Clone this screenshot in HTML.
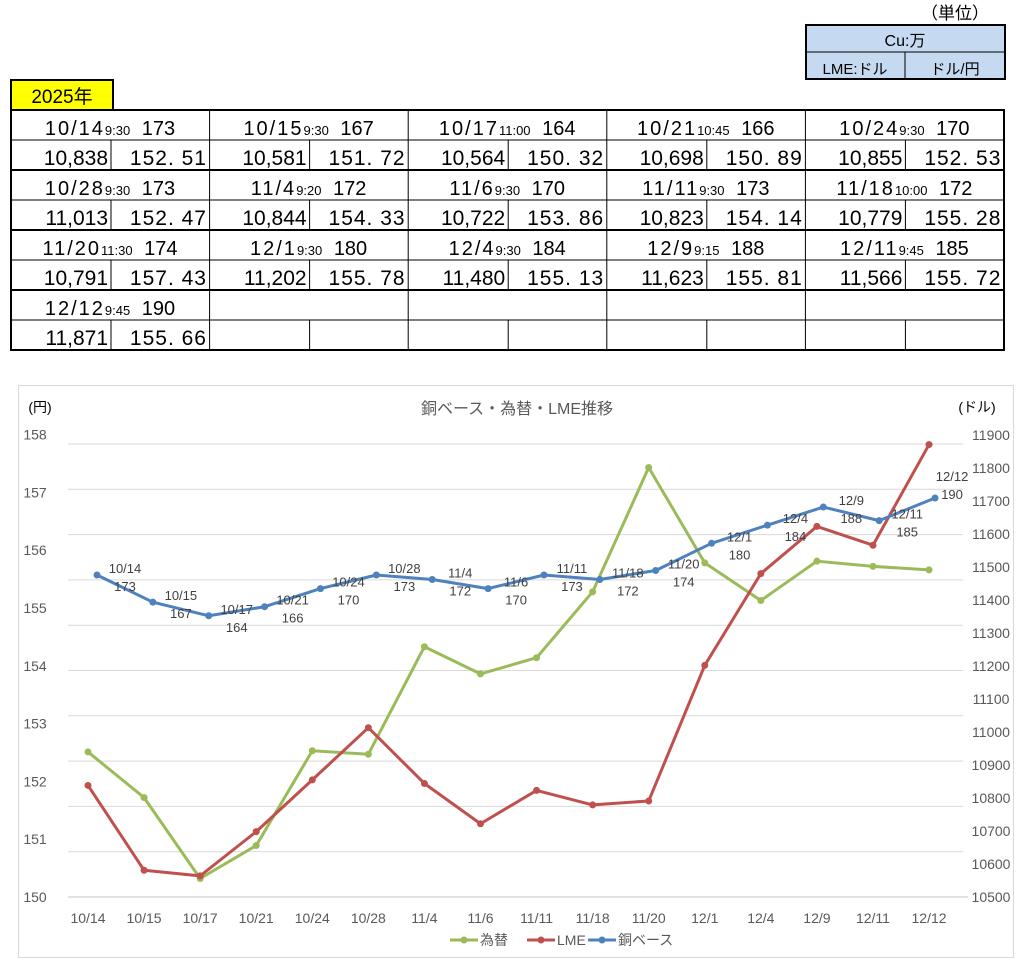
<!DOCTYPE html>
<html><head><meta charset="utf-8"><style>
body{margin:0;background:#fff;width:1036px;height:974px;overflow:hidden;font-family:"Liberation Sans","Noto Sans CJK JP",sans-serif}
svg{position:absolute;left:0;top:0}
</style></head><body>
<svg id="s" width="1036" height="974" xmlns="http://www.w3.org/2000/svg"></svg>
<script>
const s=document.getElementById('s');let h='';
const F='font-family="Liberation Sans,Noto Sans CJK JP,sans-serif"';
h+=`<text x="955" y="19" font-size="17" text-anchor="middle" ${F} fill="#000">（単位）</text>`;
h+=`<rect x="806" y="25" width="199" height="54" fill="#c5d9f1" stroke="#000" stroke-width="2"/>`;
h+=`<line x1="806" y1="52" x2="1005" y2="52" stroke="#000"/><line x1="905" y1="52" x2="905" y2="79" stroke="#000"/>`;
h+=`<text x="905" y="46" font-size="16" text-anchor="middle" ${F}>Cu:万</text>`;
h+=`<text x="855" y="74" font-size="15" text-anchor="middle" ${F}>LME:ドル</text>`;
h+=`<text x="955" y="74" font-size="15" text-anchor="middle" ${F}>ドル/円</text>`;
h+=`<rect x="11" y="80" width="102" height="30" fill="#ffff00" stroke="#000" stroke-width="2"/>`;
h+=`<text x="62" y="103" font-size="19" text-anchor="middle" ${F}>2025年</text>`;
const T=[["10/14","9:30","173","10,838","152.51"],["10/15","9:30","167","10,581","151.72"],["10/17","11:00","164","10,564","150.32"],["10/21","10:45","166","10,698","150.89"],["10/24","9:30","170","10,855","152.53"],
["10/28","9:30","173","11,013","152.47"],["11/4","9:20","172","10,844","154.33"],["11/6","9:30","170","10,722","153.86"],["11/11","9:30","173","10,823","154.14"],["11/18","10:00","172","10,779","155.28"],
["11/20","11:30","174","10,791","157.43"],["12/1","9:30","180","11,202","155.78"],["12/4","9:30","184","11,480","155.13"],["12/9","9:15","188","11,623","155.81"],["12/11","9:45","185","11,566","155.72"],
["12/12","9:45","190","11,871","155.66"]];
const X0=11,GW=198.6,Y0=110,RH=30;
h+=`<rect x="11" y="110" width="993" height="240" fill="none" stroke="#000" stroke-width="2"/>`;
for(let r=1;r<8;r++){h+=`<line x1="11" y1="${Y0+r*RH}" x2="1004" y2="${Y0+r*RH}" stroke="#000" stroke-width="${r%2==0?2:1}"/>`;}
for(let g=1;g<5;g++){h+=`<line x1="${X0+g*GW}" y1="110" x2="${X0+g*GW}" y2="350" stroke="#000"/>`;}
for(let g=0;g<5;g++)for(let k=0;k<4;k++){const y=Y0+k*60+30;h+=`<line x1="${X0+g*GW+100}" y1="${y}" x2="${X0+g*GW+100}" y2="${y+30}" stroke="#000"/>`;}
T.forEach((d,i)=>{const g=i%5,r=Math.floor(i/5);const x=X0+g*GW,y=Y0+r*60;
h+=`<text x="${x+99}" y="${y+25}" font-size="20" text-anchor="middle" ${F}><tspan letter-spacing="2">${d[0]}</tspan><tspan font-size="13">${d[1]}</tspan>  <tspan dx="6">${d[2]}</tspan></text>`;
h+=`<text x="${x+97}" y="${y+55}" font-size="21" text-anchor="end" ${F}>${d[3]}</text>`;
h+=`<text x="${x+196}" y="${y+55}" font-size="21" text-anchor="end" ${F} letter-spacing="1">${d[4].replace('.','. ')}</text>`;});
h+=`<rect x="18.5" y="385.5" width="995" height="572" fill="#fff" stroke="#d9d9d9"/>`;
h+=`<text x="517" y="414" font-size="16" text-anchor="middle" fill="#595959" ${F}>銅ベース・為替・LME推移</text>`;
h+=`<text x="40" y="412" font-size="14" text-anchor="middle" fill="#000" ${F}>(円)</text>`;
h+=`<text x="977" y="412" font-size="14" text-anchor="middle" fill="#000" ${F}>(ドル)</text>`;
for(let k=0;k<=10;k++){const y=444+k*45.3;h+=`<line x1="68" y1="${y}" x2="${k==10?968:963}" y2="${y}" stroke="#d9d9d9" stroke-width="${k==10?1.5:1}"/>`;}
for(let v=150;v<=158;v++){const y=897-(v-150)*57.8;h+=`<text x="35" y="${y+5}" font-size="14" text-anchor="middle" fill="#595959" ${F}>${v}</text>`;}
for(let v=10500;v<=11900;v+=100){const y=897-(v-10500)*0.33;h+=`<text x="991" y="${y+5}" font-size="14" text-anchor="middle" fill="#595959" ${F}>${v}</text>`;}
T.forEach((d,i)=>{h+=`<text x="${88+56.07*i}" y="923" font-size="14" text-anchor="middle" fill="#595959" ${F}>${d[0]}</text>`;});
function series(pts,c){h+=`<polyline points="${pts.map(p=>p.join(',')).join(' ')}" fill="none" stroke="${c}" stroke-width="3" stroke-linejoin="round"/>`;pts.forEach(p=>h+=`<circle cx="${p[0]}" cy="${p[1]}" r="3.5" fill="${c}"/>`);}
const G=T.map((d,i)=>[88+56.07*i,897-(parseFloat(d[4])-150)*57.8]);
const L=T.map((d,i)=>[88+56.07*i,897-(parseFloat(d[3].replace(',',''))-10500)*0.33]);
const B=T.map((d,i)=>[97+55.87*i,575-(parseFloat(d[2])-173)*4.53]);
series(G,'#9bbb59');series(L,'#c0504d');series(B,'#4f81bd');
B.forEach((p,i)=>{let dx=28,dy1=-7,dy2=11;if(i==15){dx=17;dy1=-22;dy2=-4;}
h+=`<text x="${p[0]+dx}" y="${p[1]+dy1+5}" font-size="13" text-anchor="middle" fill="#404040" ${F}>${T[i][0]}</text>`;
h+=`<text x="${p[0]+dx}" y="${p[1]+dy2+5}" font-size="13" text-anchor="middle" fill="#404040" ${F}>${T[i][2]}</text>`;});
[[450,'#9bbb59','為替'],[527,'#c0504d','LME'],[588,'#4f81bd','銅ベース']].forEach(l=>{
h+=`<line x1="${l[0]}" y1="940" x2="${l[0]+28}" y2="940" stroke="${l[1]}" stroke-width="3"/><circle cx="${l[0]+14}" cy="940" r="3.5" fill="${l[1]}"/>`;
h+=`<text x="${l[0]+30}" y="945" font-size="14" fill="#595959" ${F}>${l[2]}</text>`;});
s.innerHTML=h;
</script>
</body></html>
